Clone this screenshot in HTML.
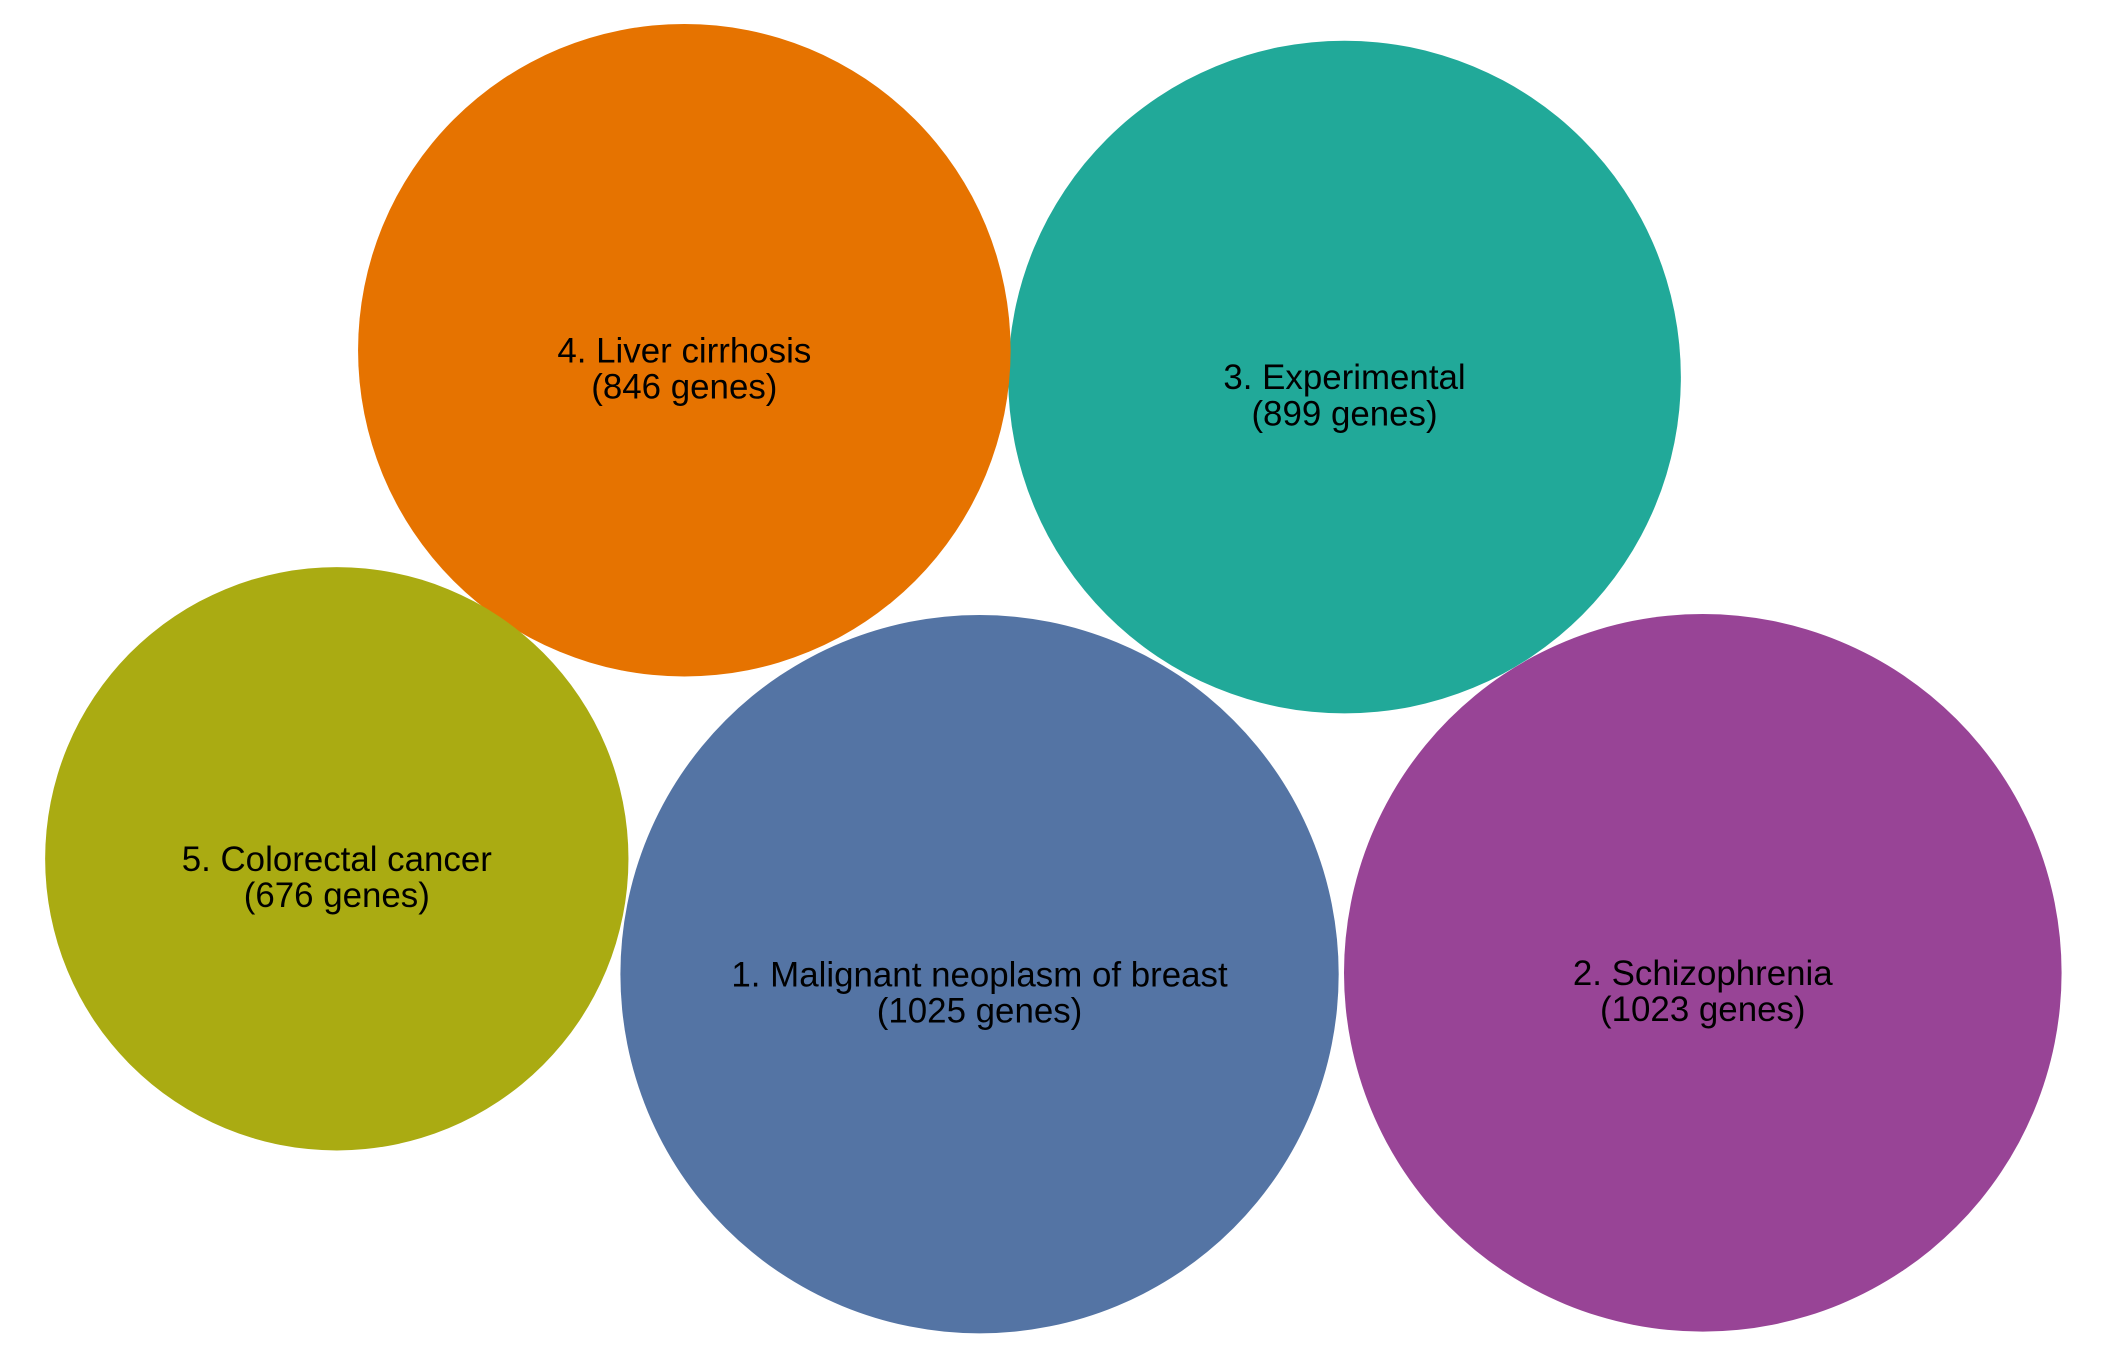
<!DOCTYPE html>
<html><head><meta charset="utf-8"><style>
html,body{margin:0;padding:0;background:#fff;}
svg{display:block;}
text{font-family:"Liberation Sans",Arial,sans-serif;font-size:26px;fill:#000;text-anchor:middle;}
</style></head><body>
<svg id="chart" width="2104" height="1366" viewBox="0 0 1568 1018" preserveAspectRatio="none" xmlns="http://www.w3.org/2000/svg"></svg>
<script>
const names = ["1. Malignant neoplasm of breast","2. Schizophrenia","3. Experimental","4. Liver cirrhosis","5. Colorectal cancer"];
const genes = [1025,1023,899,846,676];
const colors = ["#5474A4","#984496","#21A999","#E67300","#AAAB12"];
const centerX = [730,1269,1002,510,251];
const centerY = [726,725,281,261,640];
const k = 8.36;
function rScale(n){return k*Math.sqrt(n);}
const svg=document.getElementById('chart');
const NS="http://www.w3.org/2000/svg";
for(let i=0;i<names.length;i++){
  const g=document.createElementNS(NS,'g');
  
  
  const c=document.createElementNS(NS,'circle');
  
  
  c.setAttribute('cx',centerX[i]);c.setAttribute('cy',centerY[i]);
  c.setAttribute('r',rScale(genes[i]));c.setAttribute('fill',colors[i]);
  g.appendChild(c);
  const t1=document.createElementNS(NS,'text');
  
  
  t1.setAttribute('x',centerX[i]);t1.setAttribute('y',centerY[i]+9);
  t1.textContent=names[i];
  g.appendChild(t1);
  const t2=document.createElementNS(NS,'text');
  
  
  t2.setAttribute('x',centerX[i]);t2.setAttribute('y',centerY[i]+36);
  t2.textContent='('+genes[i]+' genes)';
  g.appendChild(t2);
  svg.appendChild(g);
}
</script>
</body></html>
